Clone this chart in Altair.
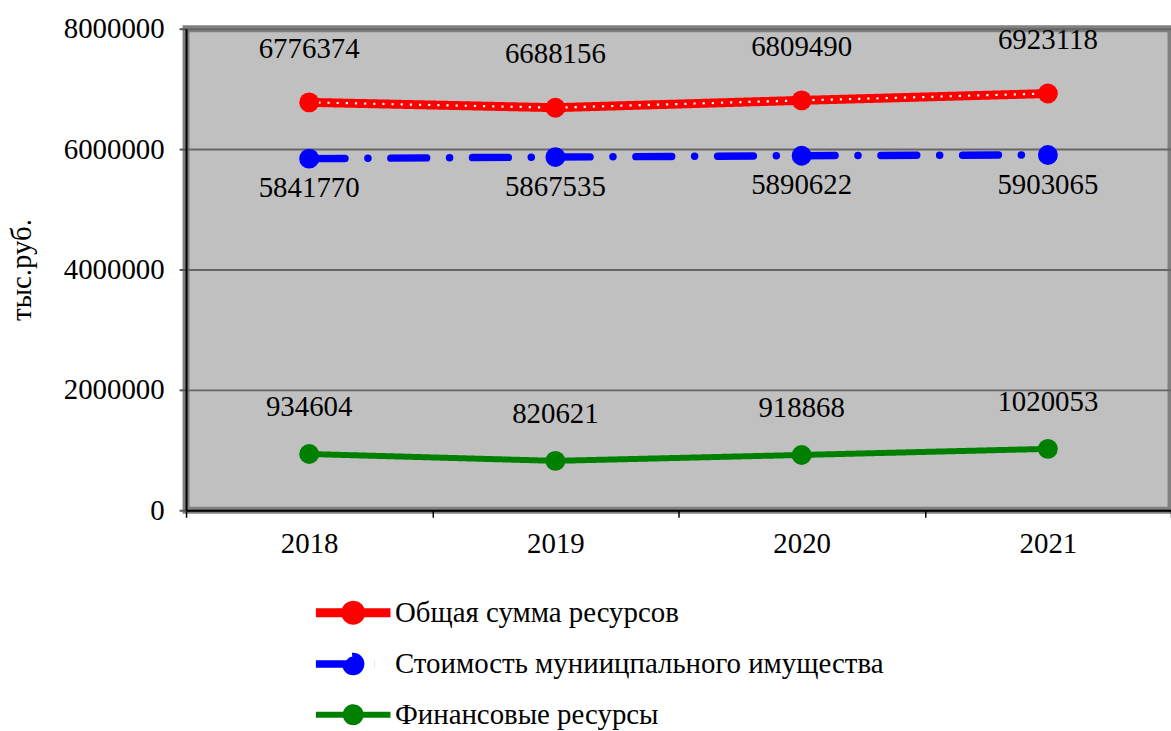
import altair as alt
import pandas as pd

# Budget resources of the municipality, thousand rubles
years = ["2018", "2019", "2020", "2021"]
series_names = [
    "Общая сумма ресурсов",
    "Стоимость муниицпального имущества",
    "Финансовые ресурсы",
]
total_resources = [6776374, 6688156, 6809490, 6923118]
property_value = [5841770, 5867535, 5890622, 5903065]
financial_resources = [934604, 820621, 918868, 1020053]
y_ticks = [0, 2000000, 4000000, 6000000, 8000000]

rows = []
for name, vals in zip(series_names, [total_resources, property_value, financial_resources]):
    for yr, v in zip(years, vals):
        rows.append({"year": yr, "series": name, "value": v})
df = pd.DataFrame(rows)

FONT = "Liberation Serif"
FS = 29
colors = ["#FF0000", "#0000FF", "#008000"]
dashes = [[1, 0], [36, 23, 0.1, 23], [1, 0]]
widths = [9, 6, 5]

# legend glyph: a line 6 units long with a dot in the middle
legend_symbol = "M-3,0H3M-0.6,0A0.6,0.6,0,1,0,0.6,0A0.6,0.6,0,1,0,-0.6,0"

color_scale = alt.Scale(domain=series_names, range=colors)
color_legend = alt.Legend(
    title=None,
    orient="none",
    legendX=151,
    legendY=570,
    direction="vertical",
    gridAlign="all",
    symbolType=legend_symbol,
    symbolSize=625,
    symbolStrokeWidth=6,
    symbolFillColor=alt.ExprRef("scale('color', datum.value)"),
    symbolStrokeColor=alt.ExprRef("scale('color', datum.value)"),
    symbolOpacity=1,
    labelFont=FONT,
    labelFontSize=FS,
    labelColor="black",
    labelOffset=25,
    labelLimit=800,
    rowPadding=3,
)

x_enc = alt.X(
    "year:N",
    title=None,
    scale=alt.Scale(paddingInner=0, paddingOuter=0),
    axis=alt.Axis(
        labelAngle=0,
        labelFont=FONT,
        labelFontSize=FS,
        labelColor="black",
        labelPadding=12,
        tickBand="extent",
        tickColor="black",
        tickSize=7,
        tickWidth=1.5,
        domainColor="black",
        domainWidth=2,
        grid=False,
    ),
)
y_enc = alt.Y(
    "value:Q",
    title="тыс.руб.",
    scale=alt.Scale(domain=[0, 8000000], nice=False),
    axis=alt.Axis(
        values=y_ticks,
        format="d",
        labelFont=FONT,
        labelFontSize=FS,
        labelColor="black",
        labelPadding=15,
        tickColor="#555555",
        tickSize=7,
        tickWidth=2,
        domainColor="black",
        domainWidth=2,
        gridColor="#666666",
        gridWidth=2,
        titleFont=FONT,
        titleFontSize=FS,
        titleFontWeight="normal",
        titleColor="black",
        titlePadding=27,
    ),
)

base = alt.Chart(df).encode(x=x_enc, y=y_enc)

lines = base.mark_line(strokeCap="round").encode(
    color=alt.Color("series:N", scale=color_scale, legend=color_legend),
    strokeDash=alt.StrokeDash(
        "series:N", scale=alt.Scale(domain=series_names, range=dashes), legend=None
    ),
    strokeWidth=alt.StrokeWidth(
        "series:N", scale=alt.Scale(domain=series_names, range=widths), legend=None
    ),
)

# white dotted core of the total-resources line
dots = (
    base.transform_filter(alt.datum.series == series_names[0])
    .mark_line(color="white", strokeWidth=2.2, strokeDash=[2.2, 7])
)

points = base.mark_point(filled=True, size=400, opacity=1).encode(
    color=alt.Color("series:N", scale=color_scale, legend=None),
)

label_style = dict(font=FONT, fontSize=FS, color="black", baseline="middle", align="center")
labels_total = base.transform_filter(alt.datum.series == series_names[0]).mark_text(
    dy=-54, **label_style
).encode(text=alt.Text("value:Q", format="d"))
labels_property = base.transform_filter(alt.datum.series == series_names[1]).mark_text(
    dy=30, **label_style
).encode(text=alt.Text("value:Q", format="d"))
labels_finance = base.transform_filter(alt.datum.series == series_names[2]).mark_text(
    dy=-47, **label_style
).encode(text=alt.Text("value:Q", format="d"))

chart = (
    alt.layer(lines, dots, points, labels_total, labels_property, labels_finance)
    .properties(
        width=990,
        height=484,
        autosize=alt.AutoSizeParams(type="none"),
        padding={"left": 187, "top": 27, "right": 0, "bottom": 220},
        background="white",
    )
    .configure_view(fill="#C0C0C0", stroke="#808080", strokeWidth=7)
)

chart.save("out.html", embed_options={"renderer": "svg", "actions": False})
